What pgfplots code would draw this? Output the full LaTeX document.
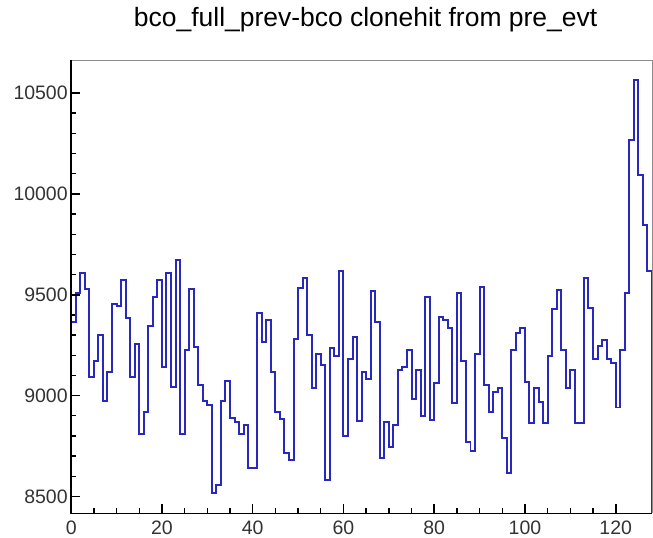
\documentclass[border=0pt]{standalone}
\usepackage{fontspec}
\setmainfont{Liberation Sans}
\usepackage{pgfplots}
\pgfplotsset{compat=1.18}

\definecolor{histblue}{RGB}{40,40,190}

\begin{document}
\begin{tikzpicture}
  \begin{axis}[
      scale only axis,
      width=581.7pt, height=454pt,
      xmin=0, xmax=128, ymin=8417, ymax=10664,
      axis line style={draw=none},
      xtick pos=left, ytick pos=left,
      tick align=inside,
      xtick={0,20,...,120}, minor x tick num=3,
      ytick={8500,9000,...,10500}, minor y tick num=4,
      major tick length=9pt, minor tick length=5pt,
      major tick style={black, line width=1.6pt},
      minor tick style={black, line width=1.4pt},
      scaled y ticks=false,
      /pgf/number format/1000 sep={},
      /pgf/number format/assume math mode=true,
      tick label style={font=\fontsize{19.5}{22}\selectfont, text=black!80},
      xticklabel style={yshift=-4pt},
      title={bco\_full\_prev-bco clonehit from pre\_evt},
      title style={font=\fontsize{26.5}{30}\selectfont, at={(0.5,1)}, anchor=center,
        yshift=34pt, xshift=4pt},
      clip=false,
    ]
    \addplot[const plot mark left, histblue, line width=2pt] coordinates {
      (0,8417)
      (0,9365) (1,9510) (2,9606) (3,9529) (4,9094) (5,9171) (6,9302) (7,8975)
      (8,9118) (9,9452) (10,9443) (11,9573) (12,9387) (13,9093) (14,9256) (15,8811)
      (16,8921) (17,9345) (18,9487) (19,9573) (20,9140) (21,9607) (22,9042) (23,9670)
      (24,8810) (25,9225) (26,9530) (27,9240) (28,9052) (29,8974) (30,8952) (31,8519)
      (32,8559) (33,8975) (34,9072) (35,8888) (36,8867) (37,8809) (38,8855) (39,8642)
      (40,8642) (41,9411) (42,9267) (43,9377) (44,9117) (45,8921) (46,8886) (47,8713)
      (48,8683) (49,9281) (50,9531) (51,9582) (52,9299) (53,9040) (54,9204) (55,9151)
      (56,8584) (57,9237) (58,9194) (59,9616) (60,8801) (61,9180) (62,9290) (63,8876)
      (64,9116) (65,9082) (66,9518) (67,9365) (68,8691) (69,8867) (70,8745) (71,8855)
      (72,9127) (73,9140) (74,9227) (75,8984) (76,9127) (77,8898) (78,9487) (79,8878)
      (80,9061) (81,9388) (82,9373) (83,9336) (84,8964) (85,9509) (86,9171) (87,8769)
      (88,8727) (89,9204) (90,9538) (91,9052) (92,8921) (93,9018) (94,9040) (95,8791)
      (96,8617) (97,9225) (98,9311) (99,9335) (100,9065) (101,8865) (102,9040) (103,8966)
      (104,8865) (105,9194) (106,9431) (107,9521) (108,9225) (109,9039) (110,9126) (111,8863)
      (112,8863) (113,9584) (114,9434) (115,9179) (116,9246) (117,9278) (118,9182) (119,9164)
      (120,8941) (121,9225) (122,9508) (123,10269) (124,10562) (125,10093) (126,9847) (127,9617)
      (128,9617) (128,8417)
    };
    % major y ticks, drawn by hand so that they show
    \pgfplotsinvokeforeach{8500,9000,9500,10000,10500}{
      \draw[black, line width=1.6pt] (axis cs:0,#1) -- ([xshift=9pt]axis cs:0,#1);
    }
    \draw[black!45, line width=0.8pt] (rel axis cs:0,1) -- (rel axis cs:1,1) -- (rel axis cs:1,0);
    \draw[black, line width=1.4pt] (rel axis cs:0,1) -- (rel axis cs:0,0) -- (rel axis cs:1,0);
  \end{axis}
  \pgfresetboundingbox
  \path ([shift={(-71.3pt,-24pt)}]current axis.south west) rectangle ([shift={(1pt,60pt)}]current axis.north east);
\end{tikzpicture}
\end{document}
